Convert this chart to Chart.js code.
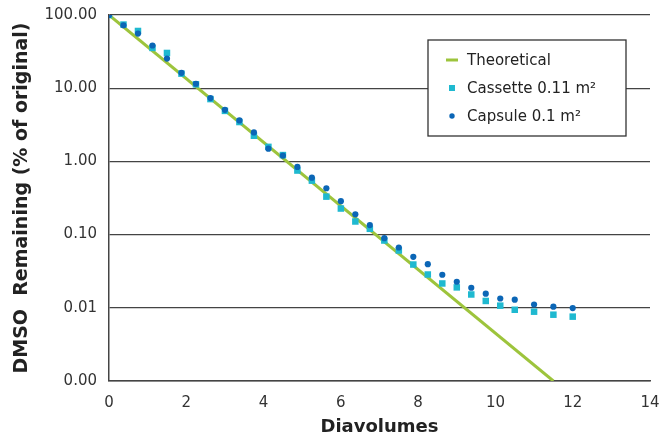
<!DOCTYPE html>
<html>
<head>
<meta charset="utf-8">
<script src="https://cdn.jsdelivr.net/npm/chart.js@4.4.0/dist/chart.umd.min.js"></script>
<style>
  html, body { margin: 0; padding: 0; background: #fff; }
  #wrap { width: 661px; height: 438px; }
</style>
</head>
<body>
<div id="wrap"><canvas id="chart"></canvas></div>
<script>
// Data
const diavolumes = [0, 0.375, 0.75, 1.125, 1.5, 1.875, 2.25, 2.625, 3, 3.375, 3.75, 4.125,
  4.5, 4.875, 5.25, 5.625, 6, 6.375, 6.75, 7.125, 7.5, 7.875, 8.25, 8.625, 9, 9.375,
  9.75, 10.125, 10.5, 11, 11.5, 12];
const cassette = [100, 74, 60.5, 35.5, 30.3, 15.8, 11.3, 7.1, 4.9, 3.45, 2.24, 1.58,
  1.22, 0.75, 0.546, 0.33, 0.227, 0.151, 0.120, 0.083, 0.0606, 0.039, 0.0285, 0.0215,
  0.019, 0.0152, 0.0124, 0.0107, 0.0094, 0.00885, 0.00805, 0.00757];
const capsule = [100, 72.4, 55.8, 38.3, 25.4, 16.2, 11.5, 7.32, 5.07, 3.63, 2.49, 1.49,
  1.20, 0.84, 0.60, 0.43, 0.286, 0.189, 0.135, 0.0895, 0.0666, 0.0497, 0.0395, 0.0283,
  0.0227, 0.0188, 0.0156, 0.0134, 0.0129, 0.0111, 0.01035, 0.0099];
// Theoretical washout line: end points
const theoryX = [0, 11.5];
const theoryY = [100, 0.001];
const yTicks = [100, 10, 1, 0.1, 0.01, 0.001];
const xMin = 0, xMax = 14, xStep = 2;

const seriesNames = ['Theoretical', 'Cassette 0.11 m\u00B2', 'Capsule 0.1 m\u00B2'];
const colors = { theory: '#9dc43c', cassette: '#1fb9d0', capsule: '#0b66b6' };

function pairs(xs, ys) {
  return xs.map((x, i) => ({ x: x, y: ys[i] }));
}

// Boxed legend inside the plot, top right
const boxLegend = {
  id: 'boxLegend',
  afterDraw(chart) {
    const ctx = chart.ctx;
    const area = chart.chartArea;
    const w = 198, h = 96;
    const x0 = area.right - 24 - w, y0 = area.top + 25;
    ctx.save();
    ctx.fillStyle = '#fff';
    ctx.fillRect(x0, y0, w, h);
    ctx.strokeStyle = '#333';
    ctx.lineWidth = 1.3;
    ctx.strokeRect(x0, y0, w, h);
    ctx.font = '15px "DejaVu Sans", Verdana, sans-serif';
    ctx.textBaseline = 'middle';
    ctx.fillStyle = '#222';
    const symX = x0 + 24, textX = x0 + 39;
    chart.data.datasets.forEach((ds, i) => {
      const y = y0 + 20 + i * 28;
      if (i === 0) {
        ctx.strokeStyle = ds.borderColor;
        ctx.lineWidth = 3;
        ctx.beginPath();
        ctx.moveTo(symX - 6, y);
        ctx.lineTo(symX + 6, y);
        ctx.stroke();
      } else if (ds.pointStyle === 'rect') {
        ctx.fillStyle = ds.backgroundColor;
        ctx.fillRect(symX - 3, y - 3, 6, 6);
      } else {
        ctx.fillStyle = ds.backgroundColor;
        ctx.beginPath();
        ctx.arc(symX, y, 2.7, 0, Math.PI * 2);
        ctx.fill();
      }
      ctx.fillStyle = '#222';
      ctx.fillText(ds.label, textX, y + 1);
    });
    ctx.restore();
  }
};

const tickFont = { family: '"DejaVu Sans", Verdana, sans-serif', size: 15 };
const titleFont = { family: '"DejaVu Sans", Verdana, sans-serif', size: 18, weight: 'bold' };

new Chart(document.getElementById('chart'), {
  type: 'scatter',
  data: {
    datasets: [
      {
        label: seriesNames[0],
        data: pairs(theoryX, theoryY),
        showLine: true,
        borderColor: colors.theory,
        borderWidth: 3,
        pointRadius: 0,
        order: 3
      },
      {
        label: seriesNames[1],
        data: pairs(diavolumes, cassette),
        pointStyle: 'rect',
        pointRadius: 4.6,
        backgroundColor: colors.cassette,
        borderColor: colors.cassette,
        borderWidth: 0,
        order: 2
      },
      {
        label: seriesNames[2],
        data: pairs(diavolumes, capsule),
        pointStyle: 'circle',
        pointRadius: 3.1,
        backgroundColor: colors.capsule,
        borderColor: colors.capsule,
        borderWidth: 0,
        order: 1
      }
    ]
  },
  options: {
    responsive: true,
    maintainAspectRatio: false,
    animation: false,
    layout: { padding: { top: 15, right: 11, left: 0, bottom: 0 } },
    plugins: {
      legend: { display: false },
      tooltip: { enabled: false }
    },
    scales: {
      x: {
        type: 'linear',
        min: xMin,
        max: xMax,
        ticks: { stepSize: xStep, color: '#333', font: tickFont, padding: 13 },
        grid: { display: false, drawTicks: false },
        border: { display: true, color: '#444', width: 1.5 },
        title: { display: true, text: 'Diavolumes', color: '#222', font: titleFont, padding: { top: 0, bottom: 0 } },
        afterFit(scale) {
          scale.height = 57;
          scale.paddingLeft = 0;
          scale.paddingRight = 0;
        }
      },
      y: {
        type: 'logarithmic',
        min: 0.001,
        max: 100,
        afterBuildTicks(scale) { scale.ticks = yTicks.map(v => ({ value: v })); },
        ticks: {
          color: '#333',
          font: tickFont,
          padding: 12,
          callback: v => Number(v).toFixed(2)
        },
        grid: { color: '#444', lineWidth: 1.3, drawTicks: false },
        border: { display: true, color: '#444', width: 1.5 },
        title: { display: true, text: 'DMSO  Remaining (% of original)', color: '#222',
          font: Object.assign({}, titleFont, { size: 19 }), padding: { top: 11, bottom: 0 } },
        afterFit(scale) {
          scale.width = 109;
          scale.paddingTop = 0;
          scale.paddingBottom = 0;
        }
      }
    }
  },
  plugins: [boxLegend]
});
</script>
</body>
</html>
